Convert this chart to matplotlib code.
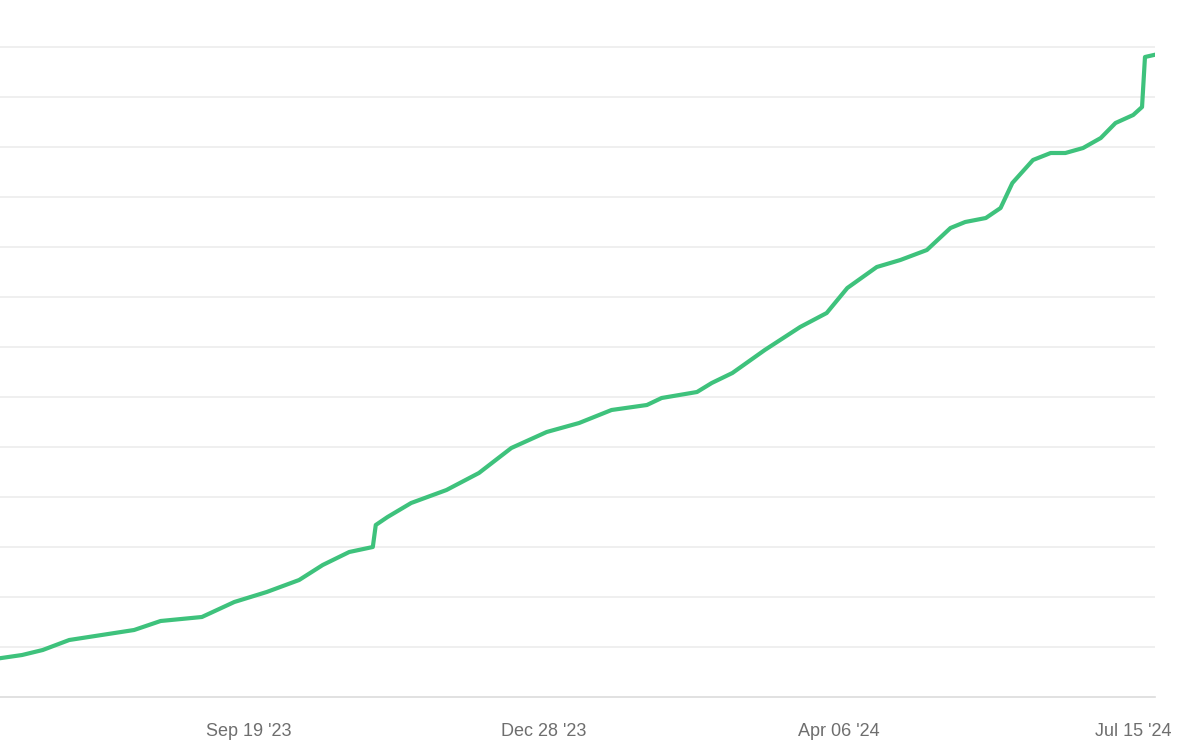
import numpy as np
import pandas as pd
import matplotlib
matplotlib.use("Agg")
import matplotlib.pyplot as plt
import matplotlib.dates as mdates
import matplotlib.transforms as mtransforms

# values (grid step = 1 unit)
dates = ["2023-06-27", "2023-07-04", "2023-07-11", "2023-07-20", "2023-07-31",
         "2023-08-11", "2023-08-20", "2023-09-03", "2023-09-14", "2023-09-25",
         "2023-10-06", "2023-10-14", "2023-10-23", "2023-10-31", "2023-11-01",
         "2023-11-05", "2023-11-13", "2023-11-25", "2023-12-06", "2023-12-17",
         "2023-12-29", "2024-01-09", "2024-01-20", "2024-02-01", "2024-02-06",
         "2024-02-18", "2024-02-23", "2024-03-01", "2024-03-12", "2024-03-24",
         "2024-04-02", "2024-04-09", "2024-04-19", "2024-04-27", "2024-05-06",
         "2024-05-14", "2024-05-19", "2024-05-26", "2024-05-31", "2024-06-04",
         "2024-06-11", "2024-06-17", "2024-06-22", "2024-06-28", "2024-07-04",
         "2024-07-09", "2024-07-15", "2024-07-18", "2024-07-19", "2024-07-22"]
values = [0.78, 0.84, 0.94, 1.14, 1.24,
          1.34, 1.52, 1.60, 1.90, 2.10,
          2.34, 2.64, 2.90, 3.00, 3.44,
          3.60, 3.88, 4.14, 4.48, 4.98,
          5.30, 5.48, 5.74, 5.84, 5.98,
          6.10, 6.28, 6.48, 6.94, 7.40,
          7.68, 8.18, 8.60, 8.74, 8.94,
          9.38, 9.50, 9.58, 9.78, 10.28,
          10.74, 10.88, 10.88, 10.98, 11.18,
          11.48, 11.64, 11.80, 12.80, 12.84]

tick_dates = ["2023-09-19", "2023-12-28", "2024-04-06", "2024-07-15"]
tick_labels = ["Sep 19 '23", "Dec 28 '23", "Apr 06 '24", "Jul 15 '24"]
# first tick sits left of the visible area, only its tail shows
edge_date = "2023-06-11"
edge_label = "Jun 11 '23"

x = pd.to_datetime(dates)
lbl_color = "#6e6e6e"
lbl_font = "Liberation Sans"

fig = plt.figure(figsize=(12, 7.47), dpi=100)
ax = fig.add_axes([0.0, 50 / 747, 1155 / 1200, 697 / 747])

ax.plot(x, values, color="#3ec27c", linewidth=3.0, solid_joinstyle="round")

ax.set_ylim(0, 13.94)
ax.set_yticks(range(1, 14))
ax.yaxis.grid(True, color="#ececec", linewidth=1.2)
ax.set_axisbelow(True)
ax.tick_params(axis="y", left=False, labelleft=False)

ax.set_xticks(mdates.date2num(pd.to_datetime(tick_dates)))
ax.set_xticklabels(tick_labels, color=lbl_color, fontsize=13, fontfamily=lbl_font)
ax.tick_params(axis="x", length=0, pad=19)

x0 = pd.Timestamp("2023-09-19")
ax.set_xlim(mdates.date2num(x0 - pd.Timedelta(days=84.5)),
            mdates.date2num(x0 + pd.Timedelta(days=307.4)))

trans = mtransforms.blended_transform_factory(ax.transData, ax.transAxes)
ax.text(mdates.date2num(pd.Timestamp(edge_date)), -0.0545, edge_label,
        transform=trans, ha="center", va="center", color=lbl_color,
        fontsize=13, fontfamily=lbl_font, clip_on=False)

for s in ["top", "right", "left"]:
    ax.spines[s].set_visible(False)
ax.spines["bottom"].set_color("#dcdcdc")
ax.spines["bottom"].set_linewidth(1.2)

fig.savefig("out.png", dpi=100)
